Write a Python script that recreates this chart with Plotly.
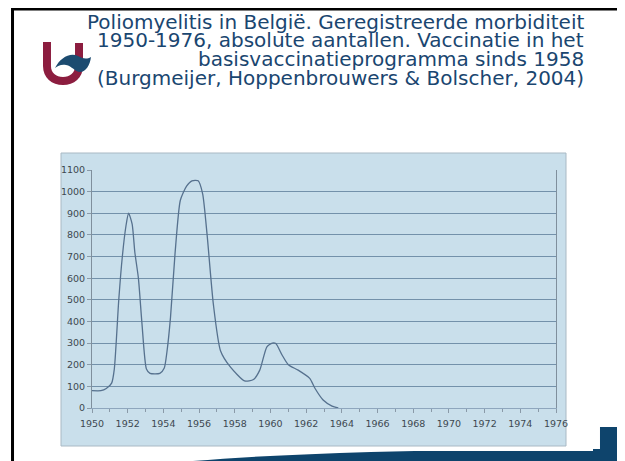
import plotly.graph_objects as go

# Geregistreerde poliomyelitis in België
jaren = [1950.0, 1950.5, 1950.8, 1951.1, 1951.25, 1951.5, 1951.7, 1951.9, 1952.05,
         1952.25, 1952.4, 1952.6, 1952.8, 1953.05, 1953.25, 1953.8, 1954.05, 1954.2,
         1954.4, 1954.65, 1954.95, 1955.3, 1955.6, 1955.95, 1956.2, 1956.45, 1956.8,
         1957.2, 1957.75, 1958.55, 1959.05, 1959.4, 1959.8, 1960.1, 1960.3, 1960.65,
         1961.0, 1961.55, 1962.2, 1962.5, 1962.95, 1963.45, 1963.8]
gevallen = [80, 80, 90, 115, 180, 500, 700, 840, 900,
            850, 720, 600, 390, 180, 160, 160, 185, 260,
            420, 710, 960, 1025, 1050, 1050, 990, 800, 480,
            265, 190, 125, 132, 175, 283, 300, 298, 245,
            200, 175, 137, 90, 37, 9, 0]

x_ticks = list(range(1950, 1977, 2))
y_ticks = list(range(0, 1101, 100))

titel = ["Poliomyelitis in België. Geregistreerde morbiditeit",
         "1950-1976, absolute aantallen. Vaccinatie in het",
         "basisvaccinatieprogramma sinds 1958",
         "(Burgmeijer, Hoppenbrouwers & Bolscher, 2004)"]

# de pagina heeft 8px marge, dus de figuur is 8px kleiner en verschoven
OFF = 8
W, H = 625 - OFF, 461 - OFF
# plotgebied in pixels van het venster
L, R, T, B = 92, 556, 170, 408


def px(x):
    return (x - L) / (R - L)


def py(y):
    return (B - y) / (B - T)


def pad(cmds):
    # pixelcoördinaten omzetten naar paper-coördinaten
    out = []
    for c in cmds:
        if isinstance(c, str):
            out.append(c)
        else:
            out.append(f"{px(c[0]):.4f},{py(c[1]):.4f}")
    return " ".join(out)


fig = go.Figure()

fig.add_trace(go.Scatter(
    x=jaren, y=gevallen, mode="lines",
    line=dict(color="#56718e", width=1.3, shape="spline", smoothing=0.6),
    hoverinfo="x+y"
))

shapes = []
# donkerblauwe band onderaan
shapes.append(dict(type="path", xref="paper", yref="paper",
                   path=pad(["M", (150, 465), "Q", (300, 449), (600, 449), "L", (600, 427),
                             "L", (630, 427), "L", (630, 465), "Z"]),
                   fillcolor="#0e446c", line=dict(width=0), layer="below"))
# witte afbeelding rond grafiek
shapes.append(dict(type="rect", xref="paper", yref="paper",
                   x0=px(40), x1=px(593), y0=py(451), y1=py(140),
                   fillcolor="white", line=dict(width=0), layer="below"))
# lichtblauw paneel
shapes.append(dict(type="rect", xref="paper", yref="paper",
                   x0=px(61), x1=px(566), y0=py(446), y1=py(153),
                   fillcolor="#c9dfeb", line=dict(color="#a9b9c4", width=1), layer="below"))
# zwarte kader van de dia
shapes.append(dict(type="path", xref="paper", yref="paper",
                   path=pad(["M", (12.5, 470), "L", (12.5, 9), "L", (621.5, 9), "L", (621.5, 470)]),
                   line=dict(color="black", width=3)))
# logo: rode U
shapes.append(dict(type="path", xref="paper", yref="paper",
                   path=pad(["M", (43, 42), "L", (43, 66), "C", (43, 78), (52, 85), (63, 85),
                             "C", (74, 85), (83, 78), (83, 66), "L", (83, 43), "L", (75, 43),
                             "L", (75, 66), "C", (75, 73), (70, 77), (63, 77),
                             "C", (56, 77), (51, 73), (51, 66), "L", (51, 42), "Z"]),
                   fillcolor="#8c1d3f", line=dict(width=0)))
# logo: blauwe golf
shapes.append(dict(type="path", xref="paper", yref="paper",
                   path=pad(["M", (55, 68), "C", (60, 58), (70, 52), (78, 56),
                             "C", (82, 58), (86, 60), (91, 57), "C", (90, 65), (86, 72), (80, 72),
                             "C", (75, 72), (72, 66), (66, 65), "C", (61, 64), (58, 66), (55, 68), "Z"]),
                   fillcolor="#1c4b70", line=dict(width=0)))

annotations = []
for regel, yc in zip(titel, [22, 40.5, 59, 77.5]):
    annotations.append(dict(
        text=regel, xref="paper", yref="paper", x=px(585), y=py(yc),
        xanchor="right", yanchor="middle", showarrow=False, borderpad=0,
        font=dict(family="DejaVu Sans", size=20, color="#1a4670")
    ))

fig.update_layout(
    width=W, height=H,
    margin=dict(l=L - OFF, r=W - (R - OFF), t=T - OFF, b=H - (B - OFF)),
    paper_bgcolor="white",
    plot_bgcolor="#c3dbe8",
    showlegend=False,
    shapes=shapes,
    annotations=annotations,
    xaxis=dict(
        range=[1950, 1976], tickvals=x_ticks, showgrid=False, zeroline=False,
        showline=True, linecolor="#8ea6bd", linewidth=1,
        ticks="outside", ticklen=4, tickcolor="#8a9aa8", ticklabelstandoff=3,
        minor=dict(dtick=1, tick0=1950, ticks="outside", ticklen=3, tickcolor="#8a9aa8"),
        tickfont=dict(family="DejaVu Sans", size=9.5, color="#3d4850")
    ),
    yaxis=dict(
        range=[0, 1100], tickvals=y_ticks, showgrid=True, gridcolor="#7391aa", gridwidth=1,
        zeroline=False, showline=True, linecolor="#7f8f9c", mirror=True,
        ticks="outside", ticklen=4, tickcolor="#8a9aa8",
        tickfont=dict(family="DejaVu Sans", size=9.5, color="#3d4850")
    ),
)

fig.write_html("out.html")
